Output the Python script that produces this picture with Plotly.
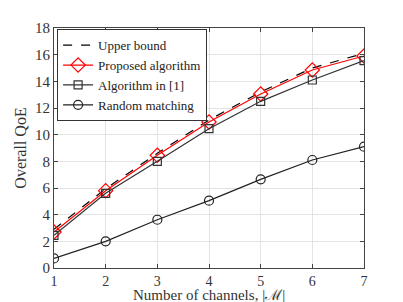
import plotly.graph_objects as go

channels = [1, 2, 3, 4, 5, 6, 7]
upper_bound = [2.9, 5.95, 8.6, 11.1, 13.2, 15.0, 16.1]
proposed = [2.7, 5.8, 8.45, 10.95, 13.05, 14.85, 15.9]
algorithm1 = [2.45, 5.6, 8.0, 10.45, 12.5, 14.1, 15.55]
random_matching = [0.72, 2.0, 3.62, 5.05, 6.65, 8.1, 9.1]
y_ticks = [0, 2, 4, 6, 8, 10, 12, 14, 16, 18]

FONT = "Liberation Serif, serif"

fig = go.Figure()
fig.add_trace(go.Scatter(x=channels, y=upper_bound, mode="lines", name="Upper bound",
                         line=dict(color="black", dash="dash", width=1.2)))
fig.add_trace(go.Scatter(x=channels, y=proposed, mode="lines+markers", name="Proposed algorithm",
                         line=dict(color="red", width=1.2),
                         marker=dict(symbol="diamond-open", size=11, color="red", line=dict(width=1.2))))
fig.add_trace(go.Scatter(x=channels, y=algorithm1, mode="lines+markers", name="Algorithm in [1]",
                         line=dict(color="#333333", width=1.2),
                         marker=dict(symbol="square-open", size=8, color="#333333", line=dict(width=1.2))))
fig.add_trace(go.Scatter(x=channels, y=random_matching, mode="lines+markers", name="Random matching",
                         line=dict(color="#222222", width=1.2),
                         marker=dict(symbol="circle-open", size=9, color="#222222", line=dict(width=1.2))))

axis_common = dict(showgrid=True, gridcolor="#e3e3e3", gridwidth=1, zeroline=False,
                   showline=True, linecolor="#444444", linewidth=1, mirror="ticks",
                   ticks="inside", ticklen=4, tickcolor="#444444")

fig.update_layout(
    width=395, height=294,
    margin=dict(l=44, r=39, t=15, b=34),
    paper_bgcolor="white", plot_bgcolor="white",
    font=dict(family=FONT, size=15, color="#333333"),
    showlegend=True,
    legend=dict(x=0.01, y=0.995, xanchor="left", yanchor="top",
                bgcolor="white", bordercolor="#333333", borderwidth=1,
                font=dict(family=FONT, size=13, color="#222222"),
                tracegroupgap=0, itemwidth=30),
    xaxis=dict(range=[1, 7], tickvals=channels,
               tickfont=dict(family=FONT, size=14, color="#333333"), **axis_common),
    yaxis=dict(range=[0, 18], tickvals=y_ticks,
               tickfont=dict(family=FONT, size=15, color="#333333"),
               title=dict(text="Overall QoE", standoff=4,
                          font=dict(family=FONT, size=16, color="#333333")),
               **axis_common),
    annotations=[dict(text="Number of channels, |ℳ|", xref="paper", yref="paper",
                      x=0.5, y=-0.112, xanchor="center", yanchor="middle", showarrow=False,
                      font=dict(family=FONT, size=15, color="#333333"))],
)

fig.write_html("out.html")
